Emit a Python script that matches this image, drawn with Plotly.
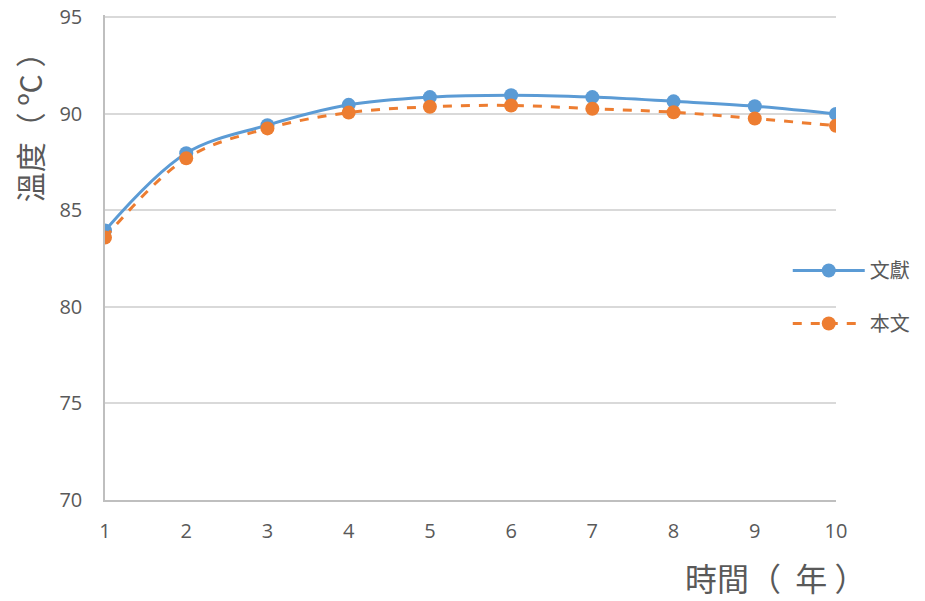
import plotly.graph_objects as go

years = [1, 2, 3, 4, 5, 6, 7, 8, 9, 10]
literature = [83.95, 87.95, 89.4, 90.45, 90.85, 90.95, 90.85, 90.63, 90.38, 89.98]
this_work = [83.58, 87.68, 89.23, 90.05, 90.35, 90.42, 90.25, 90.07, 89.74, 89.37]
y_ticks = [70, 75, 80, 85, 90, 95]

BLUE = "#5B9BD5"
ORANGE = "#ED7D31"

fig = go.Figure()
fig.add_trace(go.Scatter(
    x=years, y=literature, name="文獻", mode="lines+markers", legendgroup="a",
    line=dict(color=BLUE, width=3, shape="spline", smoothing=1),
    marker=dict(color=BLUE, size=14),
))
fig.add_trace(go.Scatter(
    x=years, y=this_work, name="本文", mode="lines+markers", legendgroup="b",
    line=dict(color=ORANGE, width=3, dash="dash", shape="spline", smoothing=1),
    marker=dict(color=ORANGE, size=14),
))

fig.update_layout(
    width=925, height=601,
    margin=dict(l=97, r=97, t=7, b=109),
    plot_bgcolor="white", paper_bgcolor="white",
    font=dict(family="Open Sans, Noto Sans CJK TC", size=20, color="#595959"),
    showlegend=True,
    legend=dict(x=0.934, y=0.4186, xanchor="left", yanchor="middle",
                bgcolor="rgba(0,0,0,0)",
                font=dict(size=20, family="Noto Sans CJK TC", color="#595959"),
                tracegroupgap=24, itemwidth=72),
    xaxis=dict(range=[1, 10], tickvals=years, showgrid=False, zeroline=False,
               showline=True, linecolor="#BFBFBF", linewidth=1.5, ticks="",
               automargin=False, ticklabelstandoff=12,
               tickfont=dict(size=20, color="#595959")),
    yaxis=dict(range=[70, 95.1], tickvals=y_ticks, showgrid=True, gridcolor="#D9D9D9",
               gridwidth=1.5, zeroline=False, showline=True, linecolor="#BFBFBF",
               linewidth=1.5, ticks="", ticklabelstandoff=17, automargin=False,
               ticklabeloverflow="allow",
               tickfont=dict(size=20, color="#595959")),
    annotations=[
        dict(text="時間（\u00a0\u00a0年\u00a0）", xref="paper", yref="paper", x=0.7907, y=-0.1588,
             xanchor="left", yanchor="middle", showarrow=False,
             font=dict(size=32, family="Noto Sans CJK TC", color="#595959")),
        dict(text="溫度（\u00a0ºC\u00a0）", xref="paper", yref="paper", x=-0.1035, y=0.7835,
             xanchor="center", yanchor="middle", showarrow=False, textangle=-90,
             font=dict(size=30, family="Noto Sans CJK TC", color="#595959")),
    ],
)

fig.write_html("out.html", config={"displayModeBar": False})
